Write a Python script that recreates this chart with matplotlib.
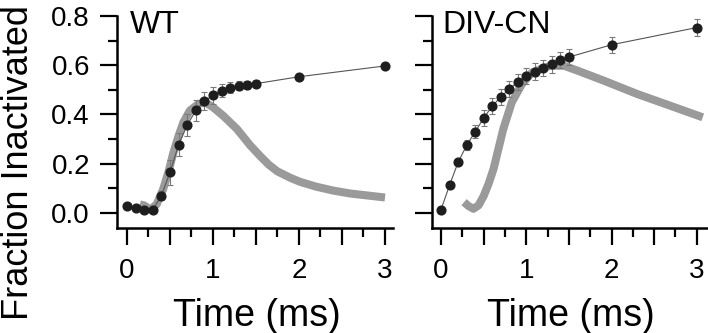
import matplotlib
matplotlib.use("Agg")
import matplotlib.pyplot as plt

plt.rcParams['font.family'] = ['Liberation Sans', 'DejaVu Sans']

# ---- data ----
t_pts = [0, 0.1, 0.2, 0.3, 0.4, 0.5, 0.6, 0.7, 0.8, 0.9, 1.0, 1.1, 1.2, 1.3, 1.4, 1.5, 2.0, 3.0]

wt_v = [0.026, 0.020, 0.013, 0.012, 0.070, 0.164, 0.276, 0.356, 0.416, 0.454,
        0.477, 0.497, 0.508, 0.516, 0.520, 0.525, 0.553, 0.597]
wt_err = [0.004, 0.004, 0.004, 0.004, 0.02, 0.05, 0.047, 0.044, 0.044, 0.038,
          0.033, 0.026, 0.022, 0.018, 0.016, 0.014, 0.008, 0.008]

wt_curve_t = [0.15, 0.2, 0.27, 0.345, 0.42, 0.48, 0.54, 0.6, 0.655, 0.73, 0.83, 0.91,
              1.0, 1.12, 1.28, 1.43, 1.55, 1.65, 1.75, 1.9, 2.01, 2.2, 2.4, 2.6, 2.8, 3.0]
wt_curve_v = [0.034, 0.03, 0.013, 0.034, 0.095, 0.163, 0.245, 0.313, 0.367, 0.415, 0.442, 0.449,
              0.429, 0.394, 0.34, 0.275, 0.23, 0.195, 0.168, 0.142, 0.126, 0.106, 0.09, 0.078, 0.07, 0.062]

dc_v = [0.013, 0.112, 0.205, 0.274, 0.329, 0.385, 0.433, 0.471, 0.503, 0.531,
        0.555, 0.574, 0.590, 0.603, 0.621, 0.633, 0.683, 0.753]
dc_err = [0.003, 0.004, 0.008, 0.02, 0.027, 0.032, 0.032, 0.033, 0.033, 0.033,
          0.033, 0.033, 0.033, 0.033, 0.033, 0.033, 0.033, 0.033]

dc_curve_t = [0.27, 0.32, 0.38, 0.44, 0.50, 0.56, 0.615, 0.67, 0.73, 0.83, 0.95, 1.07,
              1.28, 1.44, 1.6, 1.91, 2.30, 2.69, 3.07]
dc_curve_v = [0.043, 0.028, 0.016, 0.03, 0.068, 0.12, 0.177, 0.255, 0.34, 0.449, 0.524, 0.571,
              0.598, 0.598, 0.578, 0.537, 0.483, 0.435, 0.388]

panel_names = ['WT', 'DIV-CN']
x_major = [0, 0.5, 1, 1.5, 2, 2.5, 3]
x_major_labels = ['0', '', '1', '', '2', '', '3']
x_minor = [0.25, 0.75, 1.25, 1.75, 2.25, 2.75]
y_major = [0.0, 0.2, 0.4, 0.6, 0.8]
y_major_labels = ['0.0', '0.2', '0.4', '0.6', '0.8']
y_minor = [0.1, 0.3, 0.5, 0.7]

# ---- figure ----
W, H = 708, 333
fig = plt.figure(figsize=(W / 100, H / 100), dpi=100)

def px_axes(x0, x1, ytop, ybot):
    return fig.add_axes([x0 / W, (H - ybot) / H, (x1 - x0) / W, (ybot - ytop) / H])

ax1 = px_axes(117, 393, 16, 228)
ax2 = px_axes(432, 707, 16, 228)

grey = '#9a9a9a'
dot = '#1e1e1e'

for ax, v, err, ct, cv, name, xl in [
        (ax1, wt_v, wt_err, wt_curve_t, wt_curve_v, panel_names[0], (-0.116, 3.093)),
        (ax2, dc_v, dc_err, dc_curve_t, dc_curve_v, panel_names[1], (-0.106, 3.12))]:
    ax.plot(ct, cv, color=grey, lw=5.8, solid_capstyle='butt', solid_joinstyle='round', zorder=1)
    ax.errorbar(t_pts, v, yerr=err, fmt='none', ecolor='#7a7a7a', elinewidth=0.8,
                capsize=2.2, capthick=0.8, zorder=2)
    ax.plot(t_pts, v, color='#555555', lw=0.8, zorder=3)
    ax.plot(t_pts, v, 'o', color=dot, ms=6.3, mec=dot, zorder=4)
    ax.set_xlim(*xl)
    ax.set_ylim(-0.062, 0.8)
    for s in ['top', 'right']:
        ax.spines[s].set_visible(False)
    for s in ['left', 'bottom']:
        ax.spines[s].set_linewidth(1.8)
    ax.set_xticks(x_major)
    ax.set_xticklabels(x_major_labels)
    ax.set_xticks(x_minor, minor=True)
    ax.set_yticks(y_major)
    ax.set_yticks(y_minor, minor=True)
    ax.tick_params(axis='both', which='major', direction='out', length=12.5, width=1.6,
                   labelsize=20, colors='black')
    ax.tick_params(axis='both', which='minor', direction='out', length=6.5, width=1.6)
    ax.tick_params(axis='x', which='major', pad=9)
    ax.tick_params(axis='y', which='major', pad=7)
    ax.set_xlabel('Time (ms)', fontsize=27)
    ax.xaxis.set_label_coords(0.505, -0.33)

ax1.set_yticklabels(y_major_labels)
ax2.set_yticklabels([])

ax1.text(0.048, 0.92, panel_names[0], transform=ax1.transAxes, fontsize=23,
         ha='left', va='baseline')
ax2.text(0.038, 0.92, panel_names[1], transform=ax2.transAxes, fontsize=23,
         ha='left', va='baseline')

ax1.set_ylabel('Fraction Inactivated', fontsize=26)
ax1.yaxis.set_label_coords(-0.295, 0.31)

fig.savefig('out.png', dpi=100)
